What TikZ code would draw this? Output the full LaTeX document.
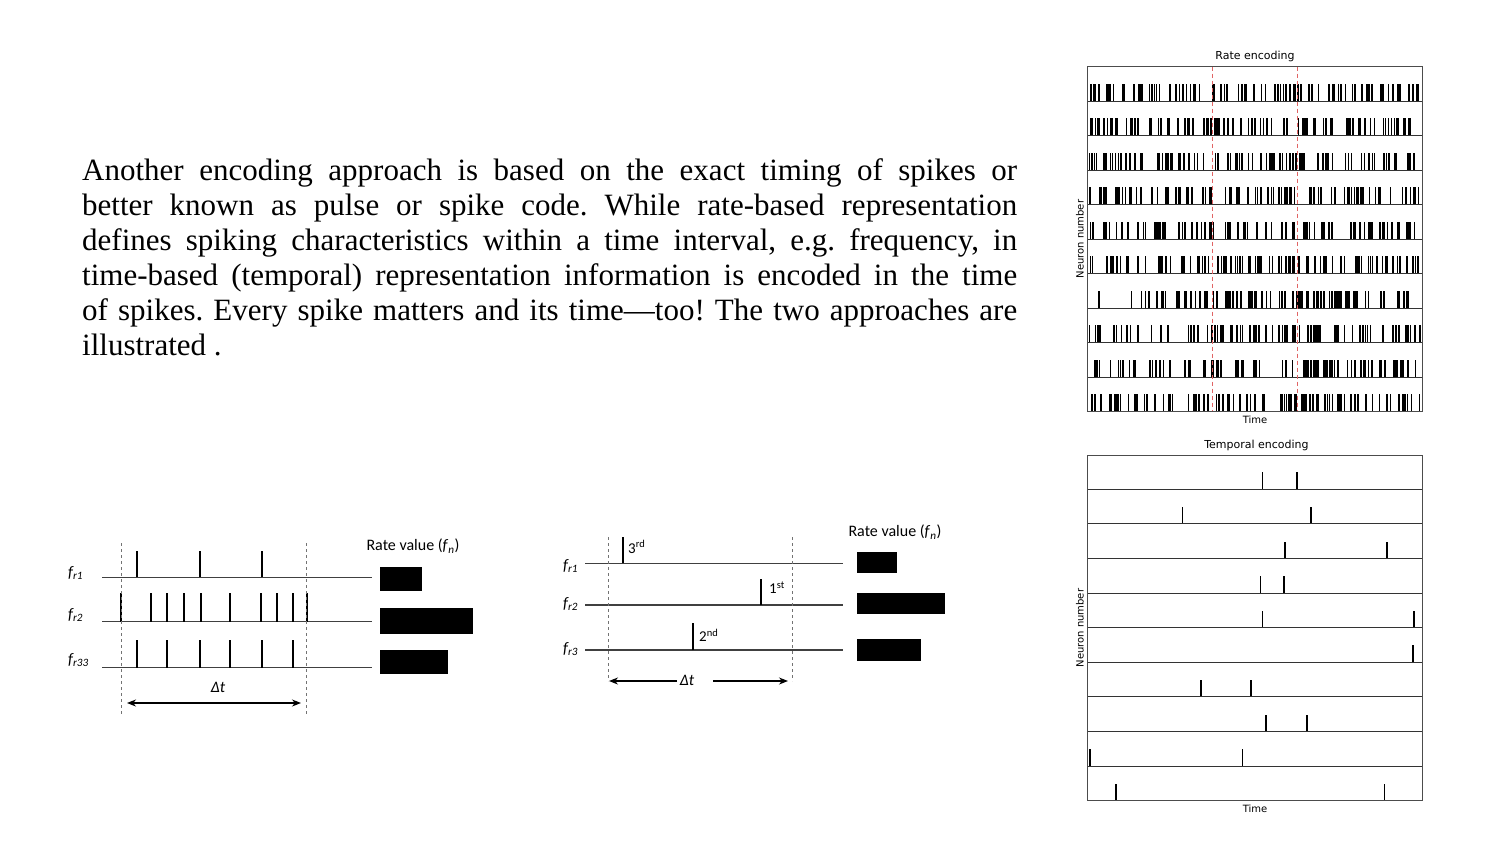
\documentclass[tikz,border=0pt]{standalone}
\usepackage{fontspec}
\setmainfont{Liberation Serif}
\newfontfamily\plotfont{DejaVu Sans}
\newfontfamily\figfont{Carlito}
\usetikzlibrary{arrows.meta}
\definecolor{reddash}{RGB}{225,100,100}
\frenchspacing
\begin{document}
\begin{tikzpicture}[x=1pt,y=-1pt,
  txt/.style={anchor=base west, inner sep=0pt, font=\fontsize{31}{35}\selectfont},
  axisln/.style={draw=black!75, line width=1.3pt},
  spk/.style={line width=1.7pt},
  thinspk/.style={line width=1.1pt},
  vdash/.style={draw=black!55, line width=1pt, dash pattern=on 3pt off 3pt},
  bar/.style={fill=black},
  flab/.style={font=\figfont\itshape\fontsize{16}{18}\selectfont, anchor=west, inner sep=0pt},
  ordlab/.style={font=\figfont\fontsize{15}{17}\selectfont, anchor=west, inner sep=0pt},
  ratelab/.style={font=\figfont\fontsize{16}{18}\selectfont, inner sep=0pt},
  dtlab/.style={font=\figfont\itshape\fontsize{16}{18}\selectfont, inner sep=0pt},
  dtarrow/.style={{Stealth[length=9pt,width=7pt]}-{Stealth[length=9pt,width=7pt]}, line width=1.3pt},
  onearrow/.style={-{Stealth[length=9pt,width=7pt]}, line width=1.3pt},
  boxln/.style={draw=black!70, line width=1pt},
  rowln/.style={draw=black!80, line width=1pt},
  rspk/.style={line width=1.5pt},
  tspk/.style={line width=1.6pt},
  rdash/.style={draw=reddash, line width=1.3pt, dash pattern=on 4pt off 3pt},
  ptitle/.style={font=\plotfont\fontsize{11}{13}\selectfont, inner sep=0pt},
  paxis/.style={font=\plotfont\fontsize{10}{12}\selectfont, inner sep=0pt}
]
\useasboundingbox (0,0) rectangle (1500,844);
\fill[white] (0,0) rectangle (1500,844);

% ---------------- paragraph ----------------
\node[txt] (p1) at (82,180) {\makebox[935pt][s]{Another encoding approach is based on the exact timing of spikes or}};
\node[txt] (p2) at (82,215) {\makebox[935pt][s]{better known as pulse or spike code. While rate-based representation}};
\node[txt] (p3) at (82,250) {\makebox[935pt][s]{defines spiking characteristics within a time interval, e.g. frequency, in}};
\node[txt] (p4) at (82,285) {\makebox[935pt][s]{time-based (temporal) representation information is encoded in the time}};
\node[txt] (p5) at (82,320) {\makebox[935pt][s]{of spikes. Every spike matters and its time—too! The two approaches are}};
\node[txt] (p6) at (82,355) {illustrated .};

% ---------------- left diagram (rate code) ----------------
\coordinate (L1s) at (102,577.3); \coordinate (L1e) at (372,577.3);
\coordinate (L2s) at (102,621.7); \coordinate (L2e) at (372,621.7);
\coordinate (L3s) at (102,667.7); \coordinate (L3e) at (372,667.7);
\draw[axisln] (L1s) -- (L1e);
\draw[axisln] (L2s) -- (L2e);
\draw[axisln] (L3s) -- (L3e);
\foreach \x in {136.7,200,261.7} \draw[spk] (\x,577.3) -- (\x,551);
\foreach \x in {121,151,167.3,184,200.7,230,260.7,277.3,292.7,307.3} \draw[spk] (\x,621.7) -- (\x,593);
\foreach \x in {136.7,167.3,200,261.7,292.7} \draw[spk] (\x,667.7) -- (\x,640);
\draw[thinspk] (230,667.7) -- (230,640);
\coordinate (LdA1) at (121,543); \coordinate (LdA2) at (121,715);
\coordinate (LdB1) at (306.7,543); \coordinate (LdB2) at (306.7,715);
\draw[vdash] (LdA1) -- (LdA2);
\draw[vdash] (LdB1) -- (LdB2);
\node[flab] (Lf1) at (68,573) {f\textsubscript{r1}};
\node[flab] (Lf2) at (68,615) {f\textsubscript{r2}};
\node[flab] (Lf3) at (68,660) {f\textsubscript{r33}};
\node[dtlab] (Ldt) at (218,687) {Δt};
\coordinate (LaL) at (127,703); \coordinate (LaR) at (301,703);
\draw[dtarrow] (LaL) -- (LaR);
\node[ratelab] (Lrate) at (413,546) {Rate value (\textit{f}\textsubscript{\textit{n}})};
\fill[bar] (380,566.7) rectangle (421.7,591);
\fill[bar] (380,608.3) rectangle (473.3,634);
\fill[bar] (380,650) rectangle (448.3,674.3);

% ---------------- middle diagram (temporal code) ----------------
\coordinate (M1s) at (585,563.3); \coordinate (M1e) at (842.7,563.3);
\coordinate (M2s) at (585,605); \coordinate (M2e) at (842.7,605);
\coordinate (M3s) at (585,650); \coordinate (M3e) at (842.7,650);
\draw[axisln] (M1s) -- (M1e);
\draw[axisln] (M2s) -- (M2e);
\draw[axisln] (M3s) -- (M3e);
\draw[spk] (622.7,563.3) -- (622.7,537);
\draw[spk] (761,605) -- (761,579);
\draw[spk] (693.3,650) -- (693.3,623.3);
\coordinate (MdA1) at (608.3,537); \coordinate (MdA2) at (608.3,681);
\coordinate (MdB1) at (792.7,537); \coordinate (MdB2) at (792.7,681);
\draw[vdash] (MdA1) -- (MdA2);
\draw[vdash] (MdB1) -- (MdB2);
\node[flab] (Mf1) at (563,566) {f\textsubscript{r1}};
\node[flab] (Mf2) at (563,604) {f\textsubscript{r2}};
\node[flab] (Mf3) at (563,649) {f\textsubscript{r3}};
\node[ordlab] (Mo3) at (628,547) {3\textsuperscript{rd}};
\node[ordlab] (Mo1) at (769,588) {1\textsuperscript{st}};
\node[ordlab] (Mo2) at (699,635) {2\textsuperscript{nd}};
\node[dtlab] (Mdt) at (687,680) {Δt};
\coordinate (MaL1) at (677,681); \coordinate (MaL2) at (609,681);
\coordinate (MaR1) at (713,681); \coordinate (MaR2) at (788,681);
\draw[onearrow] (MaL1) -- (MaL2);
\draw[onearrow] (MaR1) -- (MaR2);
\node[ratelab] (Mrate) at (895,532) {Rate value (\textit{f}\textsubscript{\textit{n}})};
\fill[bar] (856.7,552.3) rectangle (896.7,573.3);
\fill[bar] (856.7,593.3) rectangle (945,614);
\fill[bar] (856.7,639) rectangle (920.7,660.7);

% ---------------- rate encoding raster ----------------
\node[ptitle] (Rtitle) at (1255,56) {Rate encoding};
\pgfmathsetseed{4321}
\foreach \r in {0,...,9}{
  \pgfmathsetmacro\yb{101+34.52*\r}
  \foreach \k in {1,...,95}{
    \pgfmathsetmacro\xs{1089.5+331*rnd}
    \draw[rspk] (\xs,\yb) -- (\xs,\yb-17.5);
  }
}
\foreach \r in {0,...,8}{
  \pgfmathsetmacro\yb{101+34.52*\r}
  \draw[rowln] (1087.3,\yb) -- (1422.3,\yb);
}
\draw[rdash] (1212.7,66.7) -- (1212.7,411.7);
\draw[rdash] (1297.3,66.7) -- (1297.3,411.7);
\draw[boxln] (1087.3,66.7) rectangle (1422.3,411.7);
\node[paxis, rotate=90] (Rylab) at (1080,239) {Neuron number};
\node[paxis] (Rxlab) at (1255,420) {Time};

% ---------------- temporal encoding raster ----------------
\node[ptitle] (Ttitle) at (1256.5,445) {Temporal encoding};
\foreach \r/\a/\b in {0/1262.3/1297,1/1182.3/1310.7,2/1284.7/1386.7,3/1260.3/1284,4/1262.3/1413.7,6/1201/1251,7/1266/1306.7,8/1089.7/1242.3,9/1115.7/1384.3}{
  \pgfmathsetmacro\yb{489.3+34.6*\r}
  \draw[tspk] (\a,\yb) -- (\a,\yb-17);
  \draw[tspk] (\b,\yb) -- (\b,\yb-17);
}
\draw[tspk] (1413,662.3) -- (1413,645.3);
\foreach \r in {0,...,8}{
  \pgfmathsetmacro\yb{489.3+34.6*\r}
  \draw[rowln] (1087.7,\yb) -- (1422.3,\yb);
}
\draw[boxln] (1087.7,455) rectangle (1422.3,800.7);
\node[paxis, rotate=90] (Tylab) at (1080,628) {Neuron number};
\node[paxis] (Txlab) at (1255,808.5) {Time};
\end{tikzpicture}
\end{document}
